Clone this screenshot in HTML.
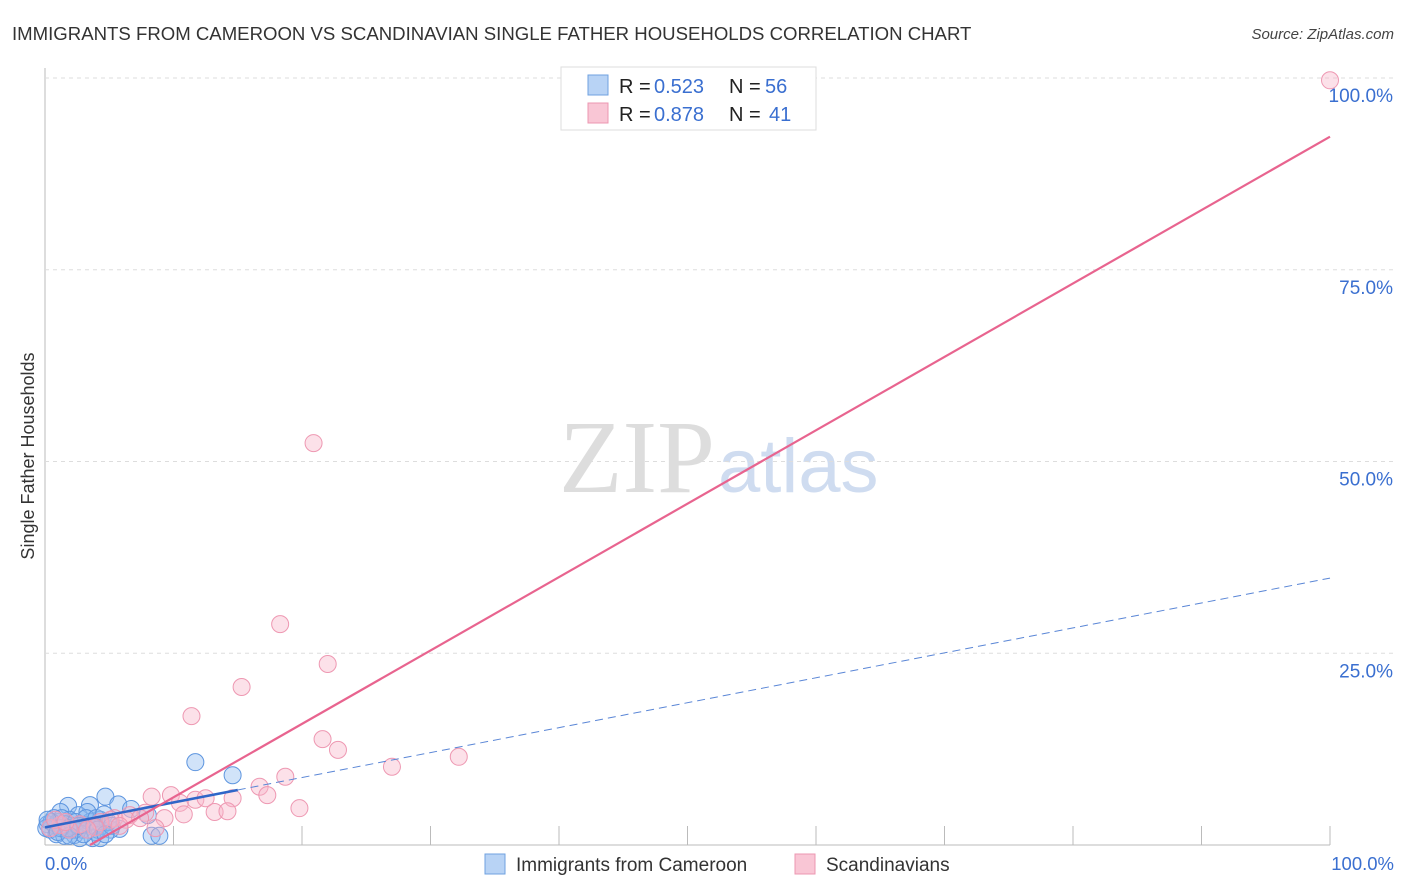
<!DOCTYPE html>
<html><head><meta charset="utf-8"><style>
body{margin:0;background:#fff;font-family:"Liberation Sans",sans-serif;}
svg{display:block}
</style></head><body>
<svg id="c" width="1406" height="892" xmlns="http://www.w3.org/2000/svg">
<text x="12" y="40" font-size="18.6" fill="#333">IMMIGRANTS FROM CAMEROON VS SCANDINAVIAN SINGLE FATHER HOUSEHOLDS CORRELATION CHART</text>
<text x="1394" y="39" font-size="15" fill="#444" font-style="italic" text-anchor="end">Source: ZipAtlas.com</text>
<text x="715" y="492" font-size="104" fill="#ddd" text-anchor="end" font-family="Liberation Serif,serif">ZIP</text>
<text x="718" y="492" font-size="76" fill="#cfdcf0">atlas</text>
<text transform="translate(34,456) rotate(-90)" font-size="18" fill="#333" text-anchor="middle">Single Father Households</text>
<g id="grid"></g><g id="pts"></g><g id="lines"></g>
<g>
<rect x="561" y="67" width="255" height="63" fill="#fff" stroke="#ddd"/>
<rect x="588" y="75" width="20" height="20" fill="#b8d3f5" stroke="#6fa1e0"/>
<rect x="588" y="103" width="20" height="20" fill="#f9c6d5" stroke="#ec97b1"/>
<text x="619" y="93" font-size="20" fill="#222">R =</text>
<text x="654" y="93" font-size="20" fill="#3a6fd0">0.523</text>
<text x="729" y="93" font-size="20" fill="#222">N =</text>
<text x="765" y="93" font-size="20" fill="#3a6fd0">56</text>
<text x="619" y="121" font-size="20" fill="#222">R =</text>
<text x="654" y="121" font-size="20" fill="#3a6fd0">0.878</text>
<text x="729" y="121" font-size="20" fill="#222">N =</text>
<text x="769" y="121" font-size="20" fill="#3a6fd0">41</text>
</g>
<g>
<rect x="485" y="854" width="20" height="20" fill="#b8d3f5" stroke="#6fa1e0"/>
<text x="516" y="871" font-size="19" fill="#333">Immigrants from Cameroon</text>
<rect x="795" y="854" width="20" height="20" fill="#f9c6d5" stroke="#ec97b1"/>
<text x="826" y="871" font-size="19" fill="#333">Scandinavians</text>
</g>
<text x="45" y="870" font-size="18.5" fill="#3a6fd0">0.0%</text>
<text x="1394" y="870" font-size="18.5" fill="#3a6fd0" text-anchor="end">100.0%</text>
</svg>
<script>
const yTicks=[25,50,75,100];
const yTickLabels=["25.0%","50.0%","75.0%","100.0%"];
const blueX=[11.7,14.6,4.7,5.7,6.7,1.8,3.5,8.0,5.8,8.3,8.9,4.3,2.6,1.2,3.1,3.9,2.3,1.6,0.8,0.2,0.4,1.0,1.9,2.9,3.5,4.4,5.1,3.7,2.7,3.3,1.3,2.1,0.5,0.1,0.9,1.6,2.4,3.2,4.0,4.6,4.9,2.3,3.0,1.5,0.7,3.8,4.1,1.8,2.6,1.2,0.2,4.3,5.2,4.7,1.0,1.9];
const blueY=[10.8,9.1,6.3,5.3,4.7,5.1,5.2,3.9,2.1,1.2,1.2,3.3,3.9,4.3,2.6,1.7,1.3,2.0,2.5,2.7,2.0,3.0,3.3,2.0,3.0,2.5,2.0,0.9,0.9,4.3,3.5,2.5,3.0,2.2,1.4,2.7,3.0,3.5,3.5,4.0,3.0,2.0,1.4,1.2,3.5,2.5,2.0,2.2,2.5,2.2,3.3,0.9,2.5,1.4,1.7,1.2];
const pinkX=[100,20.9,18.3,22.0,15.3,11.4,21.6,22.8,32.2,27.0,18.7,16.7,17.3,19.8,14.6,8.3,9.8,10.5,11.7,12.5,13.2,14.2,10.8,9.3,7.8,6.6,5.4,4.3,2.7,1.2,0.4,0.8,1.9,8.6,6.3,3.9,7.4,5.1,1.6,3.3,5.8];
const pinkY=[99.7,52.4,28.8,23.6,20.6,16.8,13.8,12.4,11.5,10.2,8.9,7.6,6.5,4.8,6.1,6.3,6.5,5.5,5.9,6.1,4.3,4.4,4.0,3.5,4.2,3.9,3.5,3.0,2.7,2.6,2.2,3.3,2.0,2.2,3.3,2.3,3.5,3.3,3.0,2.0,2.5];
const blueFit=[2.3,0.325], pinkFit=[-3.35,0.957];
const X=v=>45+v*12.85, Y=v=>845-v*7.67;
const NS="http://www.w3.org/2000/svg";
function mk(t,a,p){const e=document.createElementNS(NS,t);for(const k in a)e.setAttribute(k,a[k]);p.appendChild(e);return e;}
const g=document.getElementById('grid');
let ax=mk('line',{x1:45,y1:68,x2:45,y2:845,stroke:'#bbb'},g);


let bx=mk('line',{x1:45,y1:845,x2:1330,y2:845,stroke:'#bbb'},g);


for(let i=1;i<=10;i++){const t=mk('line',{x1:X(i*10),y1:826,x2:X(i*10),y2:845,stroke:'#bbb'},g);

}
yTicks.forEach((v,i)=>{const l=mk('line',{x1:45,y1:Y(v),x2:1395,y2:Y(v),stroke:'#ddd','stroke-dasharray':'4,4'},g);


const t=mk('text',{x:1393,y:Y(v)+24,'font-size':19,fill:'#3a6fd0','text-anchor':'end'},g);t.textContent=yTickLabels[i];

});
const p=document.getElementById('pts');
blueX.forEach((v,i)=>{const c=mk('circle',{cx:X(v),cy:Y(blueY[i]),r:8.5,fill:'rgba(140,185,240,0.4)',stroke:'#5d95df','stroke-width':1},p);

});
pinkX.forEach((v,i)=>{const c=mk('circle',{cx:X(v),cy:Y(pinkY[i]),r:8.5,fill:'rgba(248,180,200,0.4)',stroke:'#ee98b2','stroke-width':1},p);

});
const L=document.getElementById('lines');
const f=(fit,x)=>fit[0]+fit[1]*x;
let b1=mk('line',{x1:X(0),y1:Y(f(blueFit,0)),x2:X(15),y2:Y(f(blueFit,15)),stroke:'#2f66c8','stroke-width':2.5},L);


let b2=mk('line',{x1:X(15),y1:Y(f(blueFit,15)),x2:X(100),y2:Y(f(blueFit,100)),stroke:'#5a86d6','stroke-width':1,'stroke-dasharray':'8,5'},L);


const x0=-pinkFit[0]/pinkFit[1];
let pl=mk('line',{x1:X(x0),y1:Y(0),x2:X(100),y2:Y(f(pinkFit,100)),stroke:'#e8648f','stroke-width':2.2},L);


</script>
</body></html>
